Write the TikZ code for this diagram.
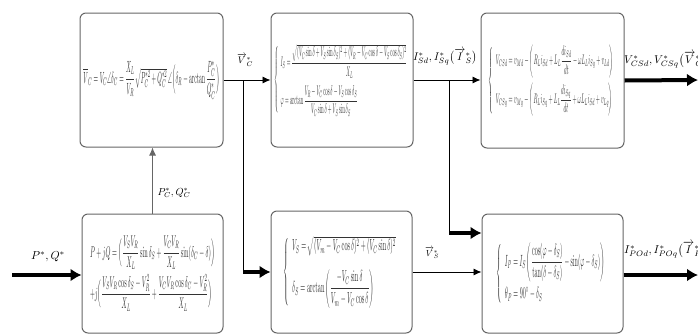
\documentclass[tikz,border=0pt]{standalone}
\usepackage{amsmath,amssymb}
\usepackage{graphicx}
\usetikzlibrary{arrows.meta}

\tikzset{
  blk/.style={draw=black!60, line width=1pt, rounded corners=6pt, fill=white, inner sep=0pt},
  thinarr/.style={-{Latex[length=8pt,width=7pt]}, line width=0.9pt},
  thickarr/.style={-{Latex[length=11pt,width=13pt]}, line width=4pt},
  frm/.style={text=black!80}
}

\begin{document}
\begin{tikzpicture}[x=1pt,y=-1pt]
            \clip (0,0) rectangle (698,335);
            % blocks
            \node[blk, frm, minimum width=143pt, minimum height=134pt] (calcVC) at (151.5,80)
              {\resizebox*{136pt}{38pt}{$\overline{V}_C=V_C\angle\delta_C=\dfrac{X_L}{V_R}\sqrt{P_C^{*2}+Q_C^{*2}}\,\angle\Bigl(\delta_R-\arctan\dfrac{P_C^{*}}{Q_C^{*}}\Bigr)$}};
            \node[blk, frm, minimum width=141pt, minimum height=119pt] (calcPQ) at (152.5,273.5)
              {\resizebox*{131pt}{75pt}{$\begin{array}{l}
                P+jQ=\Bigl(\dfrac{V_SV_R}{X_L}\sin\delta_S+\dfrac{V_CV_R}{X_L}\sin(\delta_C-\delta)\Bigr)\\[8pt]
                +j\Bigl(\dfrac{V_SV_R\cos\delta_S-V_R^2}{X_L}+\dfrac{V_CV_R\cos\delta_C-V_R^2}{X_L}\Bigr)
              \end{array}$}};
            \node[blk, frm, minimum width=142pt, minimum height=134pt] (calcIS) at (342,80)
              {\resizebox*{136pt}{72pt}{$\left\{\begin{array}{l}
                I_S=\dfrac{\sqrt{(V_C\sin\delta+V_S\sin\delta_S)^2+(V_R-V_C\cos\delta-V_S\cos\delta_S)^2}}{X_L}\\[10pt]
                \varphi=\arctan\dfrac{V_R-V_C\cos\delta-V_S\cos\delta_S}{V_C\sin\delta+V_S\sin\delta_S}
              \end{array}\right.$}};
            \node[blk, frm, minimum width=141pt, minimum height=122pt] (calcVS) at (341.5,272)
              {\resizebox*{116pt}{72pt}{$\left\{\begin{array}{l}
                V_S=\sqrt{(V_m-V_C\cos\delta)^2+(V_C\sin\delta)^2}\\[8pt]
                \delta_S=\arctan\left(\dfrac{-V_C\sin\delta}{V_m-V_C\cos\delta}\right)
              \end{array}\right.$}};
            \node[blk, frm, minimum width=143pt, minimum height=135pt] (calcVCS) at (552.5,80.5)
              {\resizebox*{128pt}{72pt}{$\left\{\begin{array}{l}
                V_{CSd}=v_{Md}-\left(R_L i_{Sd}+L_L\dfrac{di_{Sd}}{dt}-\omega L_L i_{Sq}+v_{Ld}\right)\\[10pt]
                V_{CSq}=v_{Mq}-\left(R_L i_{Sq}+L_L\dfrac{di_{Sq}}{dt}+\omega L_L i_{Sd}+v_{Lq}\right)
              \end{array}\right.$}};
            \node[blk, frm, minimum width=141pt, minimum height=119pt] (calcIP) at (552.5,273.5)
              {\resizebox*{112pt}{62pt}{$\left\{\begin{array}{l}
                I_P=I_S\left(\dfrac{\cos(\varphi-\delta_S)}{\tan(\delta-\delta_S)}-\sin(\varphi-\delta_S)\right)\\[8pt]
                \theta_P=90^\circ-\delta_S
              \end{array}\right.$}};
            % signal labels
            \node (lblPQ) at (48,257) {\resizebox{34pt}{!}{$P^{*},Q^{*}$}};
            \node (lblPQC) at (174,193) {\resizebox{33pt}{!}{$P_C^{*},Q_C^{*}$}};
            \node (lblVC) at (245,60) {\resizebox{16pt}{!}{$\overrightarrow{V}{}_C^{*}$}};
            \node (lblIS) at (445,57) {\resizebox{64pt}{!}{$I_{Sd}^{*},I_{Sq}^{*}\bigl(\overrightarrow{I}{}_S^{*}\bigr)$}};
            \node[anchor=west, inner sep=1pt] (lblVCS) at (623,60) {\resizebox{90pt}{!}{$V_{CSd}^{*},V_{CSq}^{*}\bigl(\overrightarrow{V}{}_{CS}^{*}\bigr)$}};
            \node (lblVS) at (432,253) {\resizebox{14pt}{!}{$\overrightarrow{V}{}_S^{*}$}};
            \node[anchor=west, inner sep=1pt] (lblIPO) at (623,250) {\resizebox{90pt}{!}{$I_{POd}^{*},I_{POq}^{*}\bigl(\overrightarrow{I}{}_{PO}^{*}\bigr)$}};
            % connectors
            \coordinate (inPQ) at (12,275);
            \coordinate (brVC) at (243,80);
            \coordinate (brIS) at (449,80);
            \coordinate (inIP) at (449,233);
            \coordinate (outV) at (698,80);
            \coordinate (outI) at (698,275);
            \draw[thickarr] (inPQ) -- (inPQ -| calcPQ.west);
            \draw[thinarr, draw=black!60, fill=black!60] (calcPQ.north) -- (calcPQ.north |- calcVC.south);
            \draw[thinarr] (calcVC.east) -- (calcIS.west);
            \draw[line width=0.9pt] (brVC) -- (brVC |- calcVS.west);
            \draw[thickarr] (brVC |- calcVS.west) -- (calcVS.west);
            \draw[thinarr] (calcIS.east) -- (calcIS.east -| calcVCS.west);
            \draw[line width=0.9pt] (brIS) -- (inIP);
            \draw[thickarr] (inIP) -- (inIP -| calcIP.west);
            \draw[thinarr] (calcVS.east) -- (calcVS.east -| calcIP.west);
            \draw[thickarr] (calcVCS.east) -- (outV);
            \draw[thickarr] (calcIP.east |- outI) -- (outI);
\end{tikzpicture}
\end{document}
